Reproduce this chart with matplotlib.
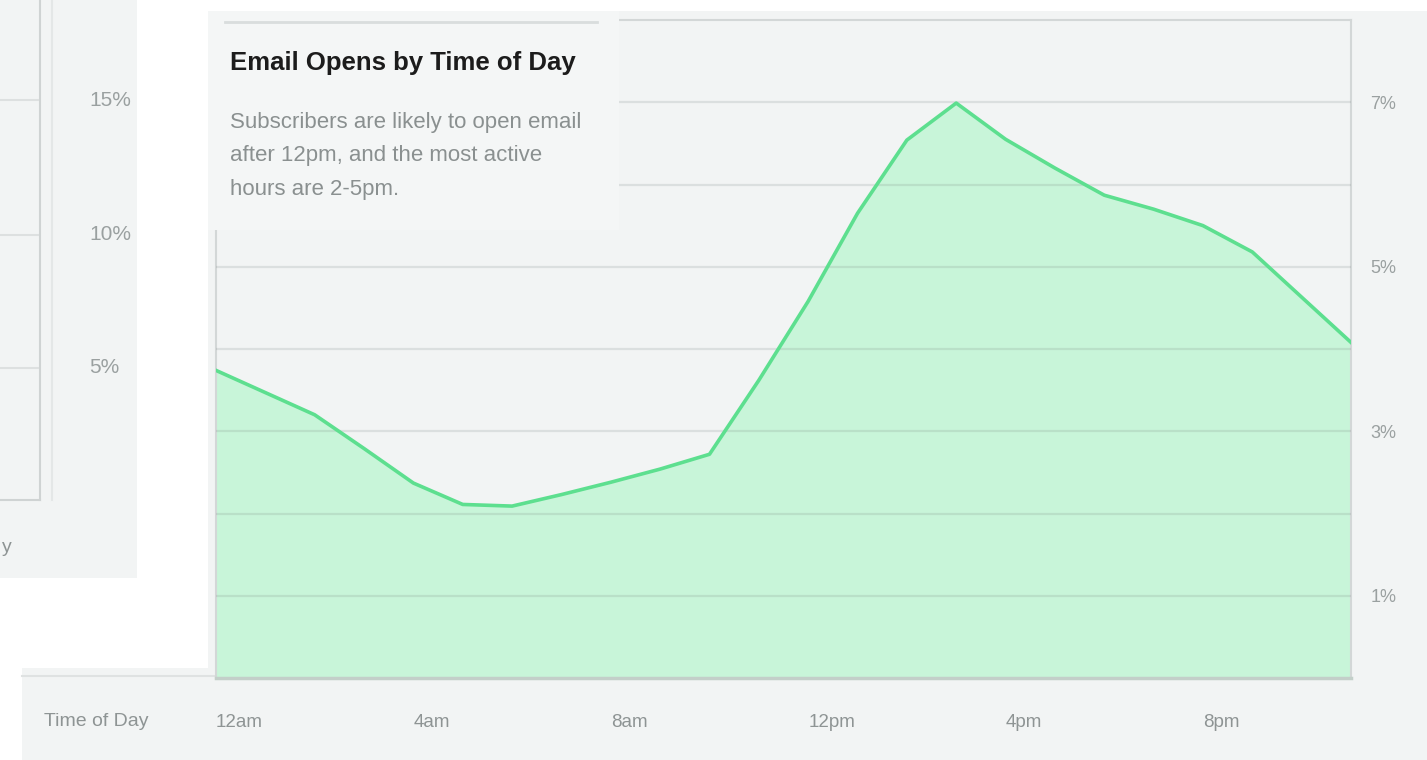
import matplotlib.pyplot as plt
from matplotlib.patches import Rectangle
from matplotlib.lines import Line2D

plt.rcParams['font.family'] = ['Liberation Sans', 'DejaVu Sans']

# hourly share of email opens (%)
hours = list(range(24))
opens = [3.74, 3.47, 3.20, 2.79, 2.37, 2.11, 2.09, 2.23, 2.38, 2.54, 2.72, 3.62,
         4.58, 5.65, 6.54, 6.99, 6.55, 6.20, 5.87, 5.70, 5.50, 5.18, 4.63, 4.08]
tick_hours = [0, 4, 8, 12, 16, 20]
tick_labels = ['12am', '4am', '8am', '12pm', '4pm', '8pm']
pct_ticks = [1, 3, 5, 7]
pct_minor = [2, 4, 6]
# labels of the neighbouring (cut off) panel
left_labels = ['15%', '10%', '5%']

title = 'Email Opens by Time of Day'
subtitle = 'Subscribers are likely to open email\nafter 12pm, and the most active\nhours are 2-5pm.'

W, H = 1427, 760
BG = '#f2f4f4'
fig = plt.figure(figsize=(W / 100, H / 100), dpi=100, facecolor='white')


def fx(px):
    return px / W


def fy(py):
    return 1 - py / H


def rect(x0, y0, x1, y1, color, z=-5):
    fig.add_artist(Rectangle((fx(x0), fy(y1)), fx(x1 - x0), (y1 - y0) / H,
                             transform=fig.transFigure, fc=color, ec='none', zorder=z))


def hline(x0, x1, y, color, lw=1.5, z=-4):
    fig.add_artist(Line2D([fx(x0), fx(x1)], [fy(y), fy(y)], transform=fig.transFigure,
                          color=color, lw=lw, zorder=z))


def vline(x, y0, y1, color, lw=1.5, z=-4):
    fig.add_artist(Line2D([fx(x), fx(x)], [fy(y0), fy(y1)], transform=fig.transFigure,
                          color=color, lw=lw, zorder=z))


# backgrounds
rect(0, 0, 137, 578, BG)
rect(208, 11, W, 668, BG)
rect(22, 668, W, H, BG)

# left cut-off panel
vline(40, 0, 500, '#cfd3d3')
vline(52, 0, 500, '#e4e7e7')
hline(0, 40, 500, '#cfd3d3')
for y in [100, 235, 368]:
    hline(0, 38, y, '#dde0e0')
for lab, y in zip(left_labels, [100, 235, 368]):
    fig.text(fx(89), fy(y), lab, fontsize=15, color='#9aa0a0', va='center', ha='left')
fig.text(fx(12), fy(548), 'y', fontsize=14, color='#8e9494', va='center', ha='right')

# main chart
ax = fig.add_axes([fx(216), fy(678), fx(1351 - 216), (678 - 20) / H])
ax.set_facecolor('none')
ax.set_xlim(0, 23)
ax.set_ylim(0, 8)
ax.fill_between(hours, opens, 0, color='#c8f5d9', lw=0, zorder=1)
ax.plot(hours, opens, color='#5ddf8f', lw=2.6, zorder=3, solid_joinstyle='round')

ax.set_yticks(pct_ticks, [f'{v}%' for v in pct_ticks])
ax.set_yticks(pct_minor, minor=True)
ax.set_axisbelow(False)
ax.grid(axis='y', which='both', color='#6f7a7a', alpha=0.17, lw=1.6, zorder=2)
ax.yaxis.tick_right()
ax.tick_params(axis='y', which='both', length=0, pad=14, labelsize=13, labelcolor='#9aa0a0')

ax.set_xticks(tick_hours, tick_labels)
ax.tick_params(axis='x', length=0, pad=26, labelsize=13.5, labelcolor='#8e9494')
for t in ax.get_xticklabels():
    t.set_ha('left')

for side in ['left', 'right', 'top']:
    ax.spines[side].set_color('#d3d7d7')
    ax.spines[side].set_linewidth(1.5)
ax.spines['bottom'].set_color('#c3cfc9')
ax.spines['bottom'].set_linewidth(2.5)
hline(22, 216, 676, '#dfe2e2')

fig.text(fx(44), fy(722), 'Time of Day', fontsize=14, color='#8e9494', va='center', ha='left')

# title box over the top-left of the plot
rect(208, 11, 619, 230, '#f4f6f6', z=5)
hline(225, 597, 22, '#d9dddd', lw=2, z=6)
fig.text(fx(230), fy(63), title, fontsize=18.5, fontweight='bold', color='#1c1c1c',
         va='center', ha='left', zorder=7)
fig.text(fx(230), fy(156), subtitle, fontsize=16, color='#8a9090', va='center',
         ha='left', linespacing=1.78, zorder=7)

fig.savefig('out.png', dpi=100, facecolor='white')
